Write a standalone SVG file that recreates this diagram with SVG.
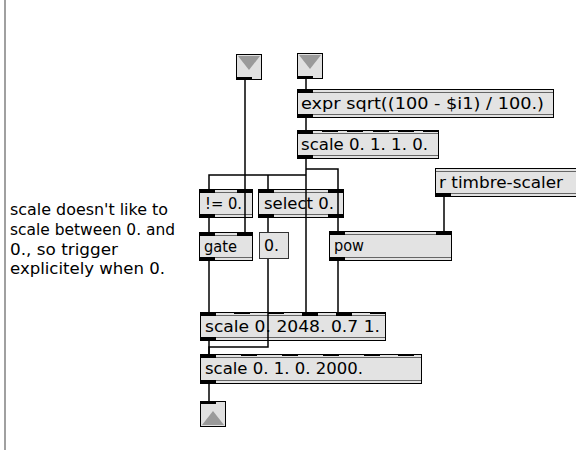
<svg xmlns="http://www.w3.org/2000/svg" width="576" height="450" viewBox="0 0 576 450">
<style>
.obj{fill:#e3e3e3;stroke:#000;stroke-width:1}
.dl{stroke:#666;stroke-width:1}
.in{fill:#000}
.num{fill:#e3e3e3;stroke:#333;stroke-width:1}
.io{fill:#e0e0e0;stroke:#000;stroke-width:1}
.tri{fill:#9a9a9a}
.t{font-family:"DejaVu Sans","Liberation Sans",sans-serif;font-size:15px;fill:#000}
.cm{font-family:"DejaVu Sans","Liberation Sans",sans-serif;font-size:15px;fill:#000}
.c{fill:none;stroke:#000;stroke-width:1.5}
</style>
<rect width="576" height="450" fill="#fff"/>
<line x1="5" y1="0" x2="5" y2="450" stroke="#a0a0a0" stroke-width="2"/>

<g id="comment">
<text class="cm" x="10" y="215" textLength="158" lengthAdjust="spacingAndGlyphs">scale doesn't like to</text>
<text class="cm" x="10" y="235" textLength="165" lengthAdjust="spacingAndGlyphs">scale between 0. and</text>
<text class="cm" x="10" y="255" textLength="108" lengthAdjust="spacingAndGlyphs">0., so trigger</text>
<text class="cm" x="10" y="274" textLength="155" lengthAdjust="spacingAndGlyphs">explicitely when 0.</text>
</g>

<g id="inlet1">
<rect class="io" x="236.5" y="54.5" width="25" height="25"/>
<polygon class="tri" points="238,56 260,56 249,70"/>
<rect class="in" x="236" y="77" width="16" height="3"/>
</g>
<g id="inlet2">
<rect class="io" x="297.5" y="53.5" width="25" height="25"/>
<polygon class="tri" points="299,55 321,55 310,69"/>
<rect class="in" x="297" y="76" width="16" height="3"/>
</g>

<g id="expr">
<rect class="obj" x="297.5" y="89.5" width="256" height="28"/>
<line class="dl" x1="298" y1="92.5" x2="553" y2="92.5"/>
<line class="dl" x1="298" y1="114.5" x2="553" y2="114.5"/>
<rect class="in" x="297" y="89" width="16" height="4"/>
<rect class="in" x="297" y="114" width="16" height="4"/>
<text class="t" x="301" y="109" textLength="243" lengthAdjust="spacingAndGlyphs">expr sqrt((100 - $i1) / 100.)</text>
</g>

<g id="scale1">
<rect class="obj" x="297.5" y="130.5" width="141" height="28"/>
<line class="dl" x1="298" y1="133.5" x2="438" y2="133.5"/>
<line class="dl" x1="298" y1="155.5" x2="438" y2="155.5"/>
<rect class="in" x="297" y="130" width="16" height="4"/>
<rect class="in" x="322" y="130" width="16" height="2"/>
<rect class="in" x="347" y="130" width="16" height="2"/>
<rect class="in" x="373" y="130" width="16" height="2"/>
<rect class="in" x="398" y="130" width="16" height="2"/>
<rect class="in" x="423" y="130" width="16" height="2"/>
<rect class="in" x="297" y="155" width="16" height="4"/>
<text class="t" x="301" y="150" textLength="127" lengthAdjust="spacingAndGlyphs">scale 0. 1. 1. 0.</text>
</g>

<g id="recv">
<rect class="obj" x="435.5" y="168.5" width="150" height="28"/>
<line class="dl" x1="436" y1="171.5" x2="576" y2="171.5"/>
<line class="dl" x1="436" y1="193.5" x2="576" y2="193.5"/>
<rect class="in" x="435" y="193" width="16" height="4"/>
<text class="t" x="439" y="188" textLength="124" lengthAdjust="spacingAndGlyphs">r timbre-scaler</text>
</g>

<g id="neq">
<rect class="obj" x="199.5" y="189.5" width="53" height="28"/>
<line class="dl" x1="200" y1="192.5" x2="252" y2="192.5"/>
<line class="dl" x1="200" y1="214.5" x2="252" y2="214.5"/>
<rect class="in" x="199" y="189" width="16" height="4"/>
<rect class="in" x="237" y="189" width="16" height="4"/>
<rect class="in" x="199" y="214" width="16" height="4"/>
<text class="t" x="205" y="209" textLength="37" lengthAdjust="spacingAndGlyphs">!= 0.</text>
</g>

<g id="select">
<rect class="obj" x="258.5" y="189.5" width="85" height="28"/>
<line class="dl" x1="259" y1="192.5" x2="343" y2="192.5"/>
<line class="dl" x1="259" y1="214.5" x2="343" y2="214.5"/>
<rect class="in" x="258" y="189" width="16" height="4"/>
<rect class="in" x="328" y="189" width="16" height="4"/>
<rect class="in" x="258" y="214" width="16" height="4"/>
<rect class="in" x="328" y="214" width="16" height="4"/>
<text class="t" x="264" y="209" textLength="70" lengthAdjust="spacingAndGlyphs">select 0.</text>
</g>

<g id="gate">
<rect class="obj" x="199.5" y="232.5" width="53" height="28"/>
<line class="dl" x1="200" y1="235.5" x2="252" y2="235.5"/>
<line class="dl" x1="200" y1="257.5" x2="252" y2="257.5"/>
<rect class="in" x="199" y="232" width="16" height="4"/>
<rect class="in" x="237" y="232" width="16" height="4"/>
<rect class="in" x="199" y="257" width="16" height="4"/>
<text class="t" x="204" y="252" textLength="33" lengthAdjust="spacingAndGlyphs">gate</text>
</g>

<g id="flonum">
<rect class="num" x="259.5" y="232.5" width="29" height="26"/>
<text class="t" x="264" y="251" textLength="15" lengthAdjust="spacingAndGlyphs">0.</text>
</g>

<g id="pow">
<rect class="obj" x="329.5" y="231.5" width="122" height="29"/>
<line class="dl" x1="330" y1="234.5" x2="451" y2="234.5"/>
<line class="dl" x1="330" y1="257.5" x2="451" y2="257.5"/>
<rect class="in" x="329" y="231" width="16" height="4"/>
<rect class="in" x="436" y="231" width="16" height="4"/>
<rect class="in" x="329" y="257" width="16" height="4"/>
<text class="t" x="334" y="251" textLength="30" lengthAdjust="spacingAndGlyphs">pow</text>
</g>

<g id="scale2">
<rect class="obj" x="200.5" y="312.5" width="185" height="28"/>
<line class="dl" x1="201" y1="315.5" x2="385" y2="315.5"/>
<line class="dl" x1="201" y1="337.5" x2="385" y2="337.5"/>
<rect class="in" x="200" y="312" width="16" height="4"/>
<rect class="in" x="234" y="312" width="16" height="2"/>
<rect class="in" x="268" y="312" width="16" height="2"/>
<rect class="in" x="302" y="312" width="16" height="4"/>
<rect class="in" x="336" y="312" width="16" height="4"/>
<rect class="in" x="370" y="312" width="16" height="2"/>
<rect class="in" x="200" y="337" width="16" height="4"/>
<text class="t" x="205" y="332" textLength="175" lengthAdjust="spacingAndGlyphs">scale 0. 2048. 0.7 1.</text>
</g>

<g id="scale3">
<rect class="obj" x="200.5" y="354.5" width="221" height="29"/>
<line class="dl" x1="201" y1="357.5" x2="421" y2="357.5"/>
<line class="dl" x1="201" y1="380.5" x2="421" y2="380.5"/>
<rect class="in" x="200" y="354" width="16" height="4"/>
<rect class="in" x="241" y="354" width="16" height="2"/>
<rect class="in" x="282" y="354" width="16" height="2"/>
<rect class="in" x="323" y="354" width="16" height="2"/>
<rect class="in" x="364" y="354" width="16" height="2"/>
<rect class="in" x="398" y="354" width="16" height="2"/>
<rect class="in" x="200" y="380" width="16" height="4"/>
<text class="t" x="205" y="374" textLength="158" lengthAdjust="spacingAndGlyphs">scale 0. 1. 0. 2000.</text>
</g>

<g id="outlet">
<rect class="io" x="200.5" y="401.5" width="25" height="25"/>
<polygon class="tri" points="202,425 224,425 213,411"/>
<rect class="in" x="200" y="401" width="16" height="3"/>
</g>

<g id="connectors">
<path class="c" d="M245 80V232"/>
<path class="c" d="M306 79V89"/>
<path class="c" d="M306 118V130"/>
<path class="c" d="M306 159V312"/>
<path class="c" d="M306 175H209V189"/>
<path class="c" d="M268 175V189"/>
<path class="c" d="M306 169H338V231"/>
<path class="c" d="M444 197V231"/>
<path class="c" d="M209 218V232"/>
<path class="c" d="M268 218V232"/>
<path class="c" d="M268 259V347H209V354"/>
<path class="c" d="M209 261V312"/>
<path class="c" d="M338 261V312"/>
<path class="c" d="M209 341V354"/>
<path class="c" d="M209 384V401"/>
</g>
</svg>
